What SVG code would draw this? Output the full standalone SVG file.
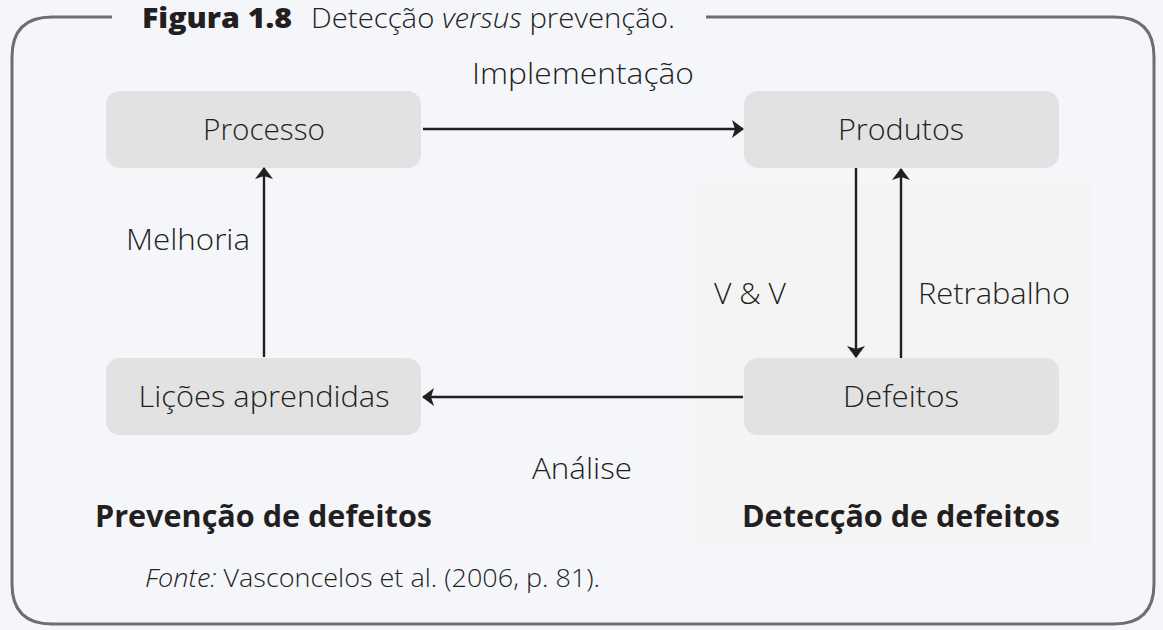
<svg xmlns="http://www.w3.org/2000/svg" width="1163" height="630" viewBox="0 0 1163 630">
<defs>
<style>
.node rect{fill:#e2e2e2;}
.lbl{font-family:"Open Sans","Noto Sans",sans-serif;font-weight:300;font-size:29px;fill:#231f20;}
.nt{font-family:"Open Sans","Noto Sans",sans-serif;font-weight:300;font-size:29px;fill:#231f20;text-anchor:middle;}
.bold{font-family:"Open Sans","Noto Sans",sans-serif;font-weight:700;font-size:30px;fill:#231f20;}
.conn line{stroke:#231f20;stroke-width:2.4;fill:none;}
</style>
<marker id="ah" viewBox="0 0 12 18" refX="11" refY="9" markerWidth="12" markerHeight="18" markerUnits="userSpaceOnUse" orient="auto">
<path d="M0,0 L12,9 L0,18 L3,9 Z" fill="#231f20" transform="rotate(0)"/>
</marker>
</defs>
<rect x="0" y="0" width="1163" height="630" fill="#f5f6fa"/>
<rect x="694" y="182" width="397" height="361" fill="#f4f4f4"/>
<path d="M112,17 L52,17 Q12,17 12,57 L12,584 Q12,624 52,624 L1114,624 Q1154,624 1154,584 L1154,57 Q1154,17 1114,17 L706,17" fill="none" stroke="#6e6e6e" stroke-width="3"/>
<text x="142" y="28" font-family="'Open Sans',sans-serif" font-size="28" font-weight="800" fill="#231f20" textLength="150" lengthAdjust="spacingAndGlyphs">Figura 1.8</text>
<text x="311" y="28" font-family="'Open Sans',sans-serif" font-size="28" font-weight="300" fill="#231f20" textLength="364" lengthAdjust="spacingAndGlyphs">Detecção <tspan font-style="italic">versus</tspan> prevenção.</text>
<g id="processo" class="node"><rect x="106" y="91" width="315" height="77" rx="14"/><text class="nt" x="264" y="140" textLength="122" lengthAdjust="spacingAndGlyphs">Processo</text></g>
<g id="produtos" class="node"><rect x="744" y="91" width="315" height="77" rx="14"/><text class="nt" x="901" y="140" textLength="126" lengthAdjust="spacingAndGlyphs">Produtos</text></g>
<g id="licoes" class="node"><rect x="106" y="358" width="315" height="77" rx="14"/><text class="nt" x="264" y="407" textLength="251" lengthAdjust="spacingAndGlyphs">Lições aprendidas</text></g>
<g id="defeitos" class="node"><rect x="744" y="358" width="315" height="77" rx="14"/><text class="nt" x="901" y="407" textLength="116" lengthAdjust="spacingAndGlyphs">Defeitos</text></g>
<g id="connectors" class="conn">
<line x1="423" y1="129" x2="743" y2="129" marker-end="url(#ah)"/>
<line x1="743" y1="397" x2="423" y2="397" marker-end="url(#ah)"/>
<line x1="264" y1="357" x2="264" y2="168" marker-end="url(#ah)"/>
<line x1="856" y1="168" x2="856" y2="357" marker-end="url(#ah)"/>
<line x1="901" y1="358" x2="901" y2="169" marker-end="url(#ah)"/>
</g>
<text class="lbl" x="472" y="84" textLength="222" lengthAdjust="spacingAndGlyphs">Implementação</text>
<text class="lbl" x="126" y="250" textLength="124" lengthAdjust="spacingAndGlyphs">Melhoria</text>
<text class="lbl" x="714" y="304" textLength="72" lengthAdjust="spacingAndGlyphs">V &amp; V</text>
<text class="lbl" x="918" y="304" textLength="152" lengthAdjust="spacingAndGlyphs">Retrabalho</text>
<text class="lbl" x="532" y="479" textLength="100" lengthAdjust="spacingAndGlyphs">Análise</text>
<text class="bold" x="95" y="527" textLength="337" lengthAdjust="spacingAndGlyphs">Prevenção de defeitos</text>
<text class="bold" x="742" y="527" textLength="318" lengthAdjust="spacingAndGlyphs">Detecção de defeitos</text>
<text x="145" y="587" font-family="'Open Sans',sans-serif" font-weight="300" font-size="25" fill="#231f20" textLength="455" lengthAdjust="spacingAndGlyphs"><tspan font-style="italic">Fonte:</tspan> Vasconcelos et al. (2006, p. 81).</text>
</svg>
